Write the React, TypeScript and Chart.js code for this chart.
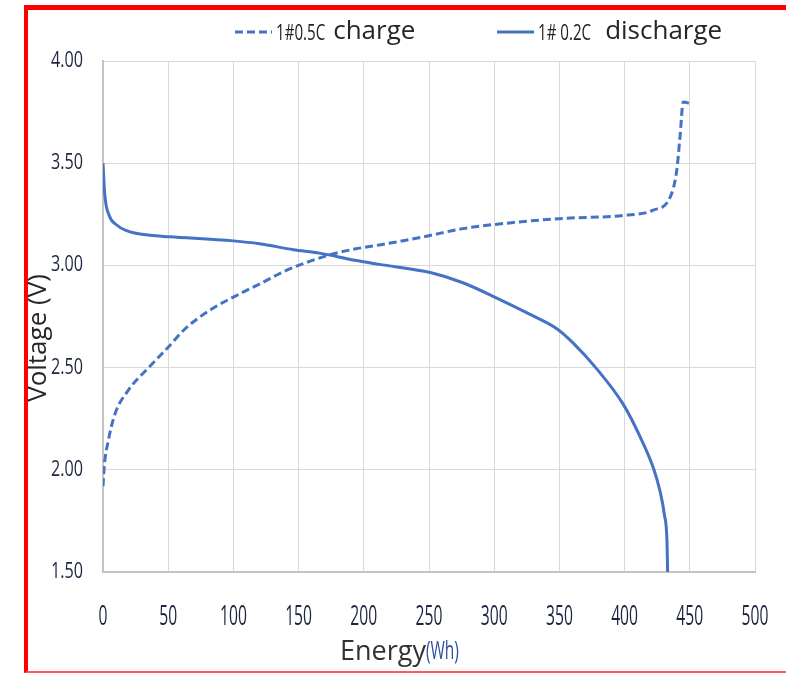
import React, { useEffect, useRef } from "react";
import { Chart, registerables } from "chart.js";

Chart.register(...registerables);

// ---- Data ----
const chargeEnergy = [0, 1, 4, 9, 19.5, 35, 50, 63, 83, 100, 122, 137, 150, 173, 193, 212, 246, 276, 315, 353, 400, 422, 435, 440, 442.5, 445, 451];
const chargeVoltage = [1.92, 2.02, 2.14, 2.27, 2.39, 2.5, 2.6, 2.69, 2.785, 2.845, 2.915, 2.965, 3.0, 3.05, 3.08, 3.1, 3.14, 3.18, 3.21, 3.23, 3.245, 3.27, 3.335, 3.465, 3.63, 3.8, 3.79];

const dischargeEnergy = [0, 1.3, 5, 10, 18, 36, 51, 100, 120, 146, 166, 193, 212, 251, 276, 302, 327.5, 348, 360.6, 378.5, 399, 412, 422, 427, 430.5, 432.5, 433];
const dischargeVoltage = [3.5, 3.35, 3.24, 3.2, 3.17, 3.147, 3.14, 3.12, 3.106, 3.077, 3.06, 3.025, 3.005, 2.965, 2.915, 2.84, 2.76, 2.69, 2.62, 2.495, 2.32, 2.16, 2.01, 1.9, 1.78, 1.65, 1.5];

const xTicks = [0, 50, 100, 150, 200, 250, 300, 350, 400, 450, 500];
const yTicks = [1.5, 2.0, 2.5, 3.0, 3.5, 4.0];

const seriesCodes = ["1#0.5C", "1# 0.2C"];
const seriesNames = ["charge", "discharge"];
const xTitleMain = "Energy";
const xTitleUnit = "(Wh)";
const yTitle = "Voltage (V)";

const LINE_COLOR = "#4472C4";
const REGULAR = "'Open Sans', 'Noto Sans', sans-serif";
const TICK_COLOR = "#1e2540";
const X_SQUEEZE = 0.56;
const Y_SQUEEZE = 0.77;
const CODE_SQUEEZE = 0.72;

// Draws text horizontally condensed around its anchor (keeps alignment).
function squeezedText(ctx: any, text: string, x: number, y: number, s: number) {
  ctx.save();
  ctx.translate(x, y);
  ctx.scale(s, 1);
  CanvasRenderingContext2D.prototype.fillText.call(ctx, text, 0, 0);
  ctx.restore();
}

// Tick labels are drawn by Chart.js; this only condenses them horizontally.
const condensedTicks = {
  id: "condensedTicks",
  beforeDraw(chart: any) {
    const ctx = chart.ctx;
    ctx.fillText = function (text: string, x: number, y: number) {
      squeezedText(this, text, x, y, this.textAlign === "right" ? Y_SQUEEZE : X_SQUEEZE);
    };
  },
  beforeDatasetsDraw(chart: any) {
    delete chart.ctx.fillText;
  },
};

const annotations = {
  id: "annotations",
  afterDraw(chart: any) {
    const ctx = chart.ctx as any;
    ctx.save();
    // legend
    const legendY = 32;
    const starts = [235, 497];
    chart.data.datasets.forEach((ds: any, i: number) => {
      const x0 = starts[i];
      ctx.strokeStyle = ds.borderColor;
      ctx.lineWidth = 3;
      ctx.setLineDash(ds.borderDash || []);
      ctx.beginPath();
      ctx.moveTo(x0, legendY);
      ctx.lineTo(x0 + 37, legendY);
      ctx.stroke();
      ctx.setLineDash([]);
      ctx.textBaseline = "alphabetic";
      ctx.textAlign = "left";
      ctx.fillStyle = "#222222";
      ctx.font = `21px ${REGULAR}`;
      const cx = x0 + 41;
      squeezedText(ctx, seriesCodes[i], cx, legendY + 8, CODE_SQUEEZE);
      const w = ctx.measureText(seriesCodes[i]).width * CODE_SQUEEZE;
      ctx.font = `26px ${REGULAR}`;
      ctx.fillStyle = "#262626";
      ctx.fillText(seriesNames[i], cx + w + (i === 0 ? 8 : 14), legendY + 7);
    });
    // x title
    const tx = 340;
    const ty = 660;
    ctx.textAlign = "left";
    ctx.fillStyle = "#333333";
    ctx.font = `27px ${REGULAR}`;
    ctx.fillText(xTitleMain, tx, ty);
    const mw = ctx.measureText(xTitleMain).width;
    ctx.fillStyle = "#2d4f9e";
    ctx.font = `25px ${REGULAR}`;
    squeezedText(ctx, xTitleUnit, tx + mw, ty - 1, 0.62);
    // y title
    ctx.save();
    ctx.translate(46, 338);
    ctx.rotate(-Math.PI / 2);
    ctx.textAlign = "center";
    ctx.fillStyle = "#262626";
    ctx.font = `26px ${REGULAR}`;
    ctx.fillText(yTitle, 0, 0);
    ctx.restore();
    ctx.restore();
  },
};

export default function App() {
  const ref = useRef<HTMLCanvasElement>(null);
  useEffect(() => {
    if (!ref.current) return;
    const chart = new Chart(ref.current, {
      type: "line",
      data: {
        datasets: [
          {
            label: seriesCodes[0] + " " + seriesNames[0],
            data: chargeEnergy.map((x, i) => ({ x, y: chargeVoltage[i] })),
            borderColor: LINE_COLOR,
            backgroundColor: LINE_COLOR,
            borderWidth: 3,
            borderDash: [8, 4],
            pointRadius: 0,
            cubicInterpolationMode: "monotone",
            fill: false,
          },
          {
            label: seriesCodes[1] + " " + seriesNames[1],
            data: dischargeEnergy.map((x, i) => ({ x, y: dischargeVoltage[i] })),
            borderColor: LINE_COLOR,
            backgroundColor: LINE_COLOR,
            borderWidth: 3,
            pointRadius: 0,
            cubicInterpolationMode: "monotone",
            fill: false,
          },
        ],
      },
      options: {
        responsive: false,
        animation: false,
        layout: { padding: { top: 61, right: 31, bottom: 0, left: 0 } },
        plugins: { legend: { display: false }, tooltip: { enabled: false }, title: { display: false } },
        scales: {
          x: {
            type: "linear",
            min: 0,
            max: 500,
            afterBuildTicks: (s: any) => { s.ticks = xTicks.map((v) => ({ value: v })); },
            afterFit: (s: any) => { s.height = 103; s.paddingLeft = 0; s.paddingRight = 0; },
            grid: { color: "#d9d9d9", lineWidth: 1, drawTicks: false },
            border: { color: "#c4c4c4", width: 2 },
            ticks: { color: TICK_COLOR, font: { family: REGULAR, size: 28 }, padding: 28, maxRotation: 0, callback: (v: any) => String(v) },
          },
          y: {
            type: "linear",
            min: 1.5,
            max: 4,
            afterBuildTicks: (s: any) => { s.ticks = yTicks.map((v) => ({ value: v })); },
            afterFit: (s: any) => { s.width = 103; s.paddingTop = 0; s.paddingBottom = 0; },
            grid: { color: "#d9d9d9", lineWidth: 1, drawTicks: false },
            border: { color: "#c4c4c4", width: 2 },
            ticks: { color: TICK_COLOR, font: { family: REGULAR, size: 21 }, padding: 20, callback: (v: any) => Number(v).toFixed(2) },
          },
        },
      },
      plugins: [condensedTicks, annotations],
    });
    return () => chart.destroy();
  }, []);

  return (
    <div style={{ position: "fixed", left: 0, top: 0, width: 786, height: 675, background: "#fff" }}>
      <canvas ref={ref} width={786} height={675} style={{ display: "block" }} />
      <div
        style={{
          position: "absolute",
          left: 24,
          top: 5,
          width: 762,
          height: 668,
          boxSizing: "border-box",
          borderLeft: "4px solid #ff0000",
          borderTop: "5px solid #ff0000",
          borderBottom: "2px solid #ff5a5a",
          pointerEvents: "none",
        }}
      />
    </div>
  );
}
